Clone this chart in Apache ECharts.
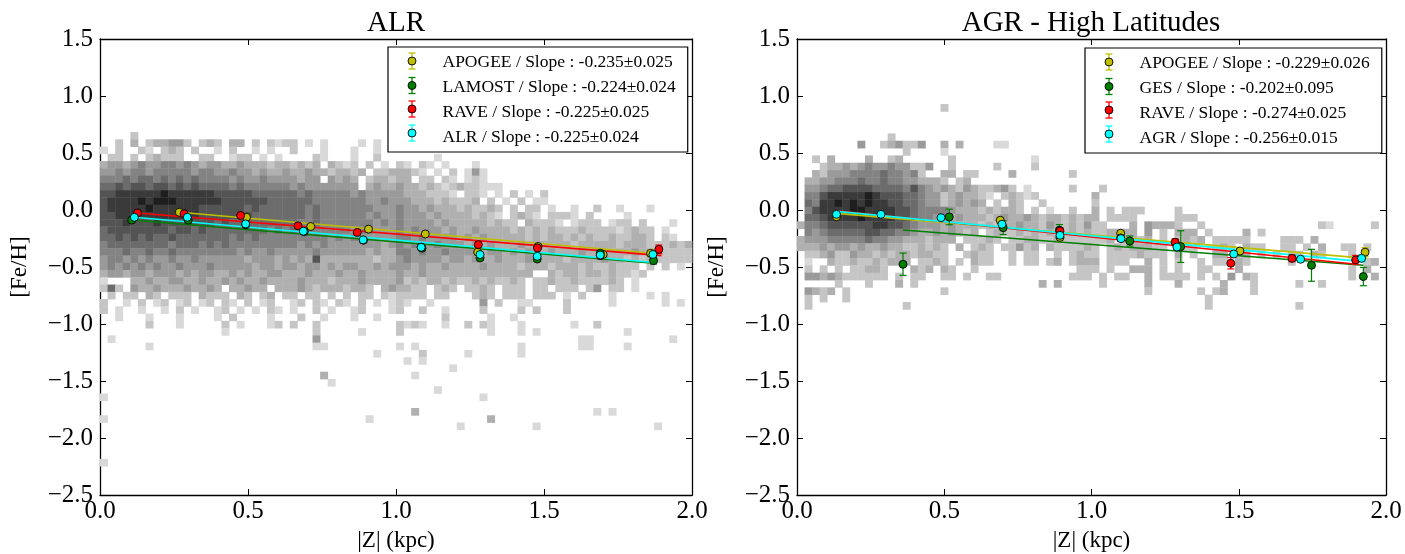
<!DOCTYPE html>
<html><head><meta charset="utf-8">
<script src="https://cdn.jsdelivr.net/npm/echarts@6/dist/echarts.min.js"></script>
<style>html,body{margin:0;padding:0;background:#fff}#c{width:1405px;height:554px}</style>
</head><body><div id="c"></div>
<script>
// ---------------- DATA ----------------
const titles = ['ALR', 'AGR - High Latitudes'];
const xName = '|Z| (kpc)';
const yName = '[Fe/H]';

// 2D histogram geometry (bin edges/centres)
const histXMin = 0, histXBins = 78, histXMax = 2;
const alrRowTop = 0.652, alrRowStep = 0.0637;
const agrRowTop = 0.897, agrRowStep = 0.0643;

// density level per cell (1 light .. 9 dark, '.' empty), rows top->bottom, 10 columns per block
const alrHistRows = [
"....2",
"..2.3.2334 42.232.33. 2.2122.1.1 ....1.1...",
"1.2..21.23 2.2..1.2.. 1.1..2...1 ...1..1...",
".22.2.2322 2..22..122 .1.1....21 ...1..2... ....1",
"3443454455 4543443343 332332323. 3212.2.1.2 1.21.1...1",
"4454554555 5545544544 3433433433 23323.2233 321.1.2.14 1",
"5556566565 6565555454 454444344. 4343.23323 3.22.21.12 1",
"6676776776 7676666565 5555545444 4444.34334 3323212322 111",
"7788888898 8888877777 6666665655 5554544444 3332221.22 1.1.2.1.2.",
"7888898999 8888887777 7766666655 5555544544 4333232223 .2.1.2.11.",
"7888889888 8887777776 7666666565 5555554445 4434333232 232.2.22.1 ..1..2..1. ..1",
"7788888888 8787777767 6666666565 5555545445 4443433332 321.2321.2 221.2....1",
"7778777877 7777767666 6666665565 5555554545 4444343333 32322.3222 1.1222.122 .2...1",
"6777777776 7767666666 6656565555 5554554445 4544434334 3333232323 2223222212 322.1",
"6676767667 6666666565 6555555555 4545444445 5454444343 4333332323 3232322322 332.21",
"5666666665 6665656555 5555554545 4444444345 4544544434 3433343333 3323333323 33222323",
"5556556556 5555555545 4454444454 4444434335 5454454444 3443434334 3334333333 43332222",
"4554545445 4454444443 4443434373 3333332334 5444434434 3343334333 3233334332 32322222",
"4545454544 5444544444 3443443443 4344334344 4343343333 4333323332 3332322322 2.2.2.1",
"3443443444 3434433434 3344333433 3433433334 3343333333 3333333..3 2332332322 12",
"1...334334 4334334343 3433334333 2333433334 2323323223 232232.223 223222232. 1",
"262.433433 343343.334 33.3334323 332332.343 322.232.22 32.222.22. 222.24.22. 1",
".2.22.32.2 22.3222.32 .23.22.22. 2.2.22.212 222.22...2 32.222.222 .1.2...1.. ..1.1",
"2..1.2.12. 12.12.21.2 .12..12.21 .21.2.1.12 1..1...... 4.2..11... .2.....1.. ....1.1",
"2.1..1..1. 2.1..12.1. 1.21.1..2. 1..12...12 ..2..1.... 2....2.2.. .2",
"..1...1... 1....1.2.. ..1...2..1 ...1..1... .....2.... .1..1",
"......2... 1.....2.1. ..12.2..2. .........2 121..1..2. 21...1.... ..1..2",
".......... ......1... ........2. ....1....2 .......... .1...1.1.. .........1",
".1........ .......... ........4. .......... .......... .......... ...11..... .....1",
"......1... .......... ........11 .........1 .1........ .....1.... ...11....1",
".......... .......... .......... ......1... ..2.....1. .....1",
".......... .......... .......... .......... 1.1",
".......... .......... .......... .......... ......1",
".......... .......... .........3 .......... .1",
".......... .......... .......... 1",
".......... .......... .......... .......... ....1",
"1......... .......... .......... .......... .......... 1",
"",
".......... .......... .......... .......... .3........ .......... .....1.1",
"1......... .......... .......... .....1.... .......... .3",
".......... .......... .......... .......... .......1.. .......1.. .......... ...1",
"", "", "", "",
"1"
];

const agrHistRows = [
".......... .........2",
"", "", "",
".......... ..2",
"........4. .234224..3 .3....11..",
".......... ....2....1",
"..2.3....3 ..23...... 2......... .1",
"...2334345 44544224.. 2.....2... .2",
"..32444555 5655452..3 3.22....3. ......2",
".334455565 5655443332 .23",
".445667777 6666575434 324322342. 1.....2... 2",
".557888889 8777665442 343321.232 12.......3",
".658898989 8877665442 34343.2.32 ..2......2",
".578888998 8887765555 4333232332 .2.1..2..3 .2.222.... 2",
".667888898 8887765544 3433323433 4323323233 .2222..... 222",
"3556777777 8877654443 4333232334 3324323242 2...3.4333 2..2...... .........2 1.....2",
".545666667 7665543343 4323.23223 2323223232 23333.4.2. 333.2....3 .2",
"3444555556 5544333233 3.22232.22 3322322222 23.3323.2. 2323.22222 ....222.3",
"3334344343 3433223232 .3.232.224 23.3222232 .23233322. 222..232.3 22..22.2.3 ..22.2",
".223422433 2323323322 ..2322..2. 22..2.2322 .22223222. 3.2..33.23 .2.2.22.32 ...2",
".1..322322 32333.2232 .2.322..2. 22.23.2333 .222..3.2. 2..2.22.32 .....2.... .....23",
".2.2.2.223 32...323.3 2..2...... .......222 .2..333.2. 2..22...3. .......... ...2.3",
".443432222 22.2.22..2 2.2..22... ......222. 2.22..3.22 22.2.2.4.3 2......... ...2..3",
".....2...2 ...3.2.... .......... ..3.3..... 2.....3... 3.....3... 2.....2..2",
".4323.2... .........2 .......... .......... ......2... ...2.23... 2",
".2.2..2... .......... .......... .......... .......... ....2",
".2........ ....2..... .......... .......... .......... ....2..... ......2"
];

// ALR panel binned means
const alrApogeeName = 'APOGEE / Slope : -0.235\u00b10.025';
const alrApogeeZ   = [0.268, 0.495, 0.712, 0.907, 1.099, 1.276, 1.480, 1.700, 1.860];
const alrApogeeFe  = [-0.020, -0.064, -0.145, -0.168, -0.210, -0.370, -0.320, -0.390, -0.380];
const alrApogeeErr = [0.020, 0.020, 0.025, 0.020, 0.020, 0.030, 0.025, 0.030, 0.030];
const alrApogeeFit = [[0.268, -0.020], [1.867, -0.380]];

const alrLamostName = 'LAMOST / Slope : -0.224\u00b10.024';
const alrLamostZ   = [0.107, 0.298, 0.492, 0.690, 0.890, 1.088, 1.284, 1.477, 1.690, 1.870];
const alrLamostFe  = [-0.088, -0.090, -0.130, -0.190, -0.265, -0.335, -0.420, -0.430, -0.380, -0.444];
const alrLamostErr = [0.012, 0.012, 0.012, 0.012, 0.015, 0.015, 0.020, 0.020, 0.025, 0.030];
const alrLamostFit = [[0.107, -0.088], [1.873, -0.467]];

const alrRaveName = 'RAVE / Slope : -0.225\u00b10.025';
const alrRaveZ   = [0.127, 0.284, 0.475, 0.669, 0.869, 1.085, 1.278, 1.478, 1.690, 1.888];
const alrRaveFe  = [-0.026, -0.033, -0.048, -0.139, -0.197, -0.325, -0.304, -0.333, -0.400, -0.345];
const alrRaveErr = [0.012, 0.012, 0.015, 0.015, 0.020, 0.020, 0.020, 0.025, 0.025, 0.038];
const alrRaveFit = [[0.127, -0.026], [1.897, -0.400]];

const alrAllName = 'ALR / Slope : -0.225\u00b10.024';
const alrAllZ   = [0.116, 0.295, 0.492, 0.687, 0.889, 1.085, 1.284, 1.477, 1.690, 1.868];
const alrAllFe  = [-0.064, -0.064, -0.122, -0.186, -0.262, -0.327, -0.391, -0.406, -0.395, -0.390];
const alrAllErr = [0.010, 0.010, 0.010, 0.012, 0.012, 0.015, 0.015, 0.018, 0.020, 0.022];
const alrAllFit = [[0.116, -0.064], [1.873, -0.460]];

// AGR panel binned means
const agrApogeeName = 'APOGEE / Slope : -0.229\u00b10.026';
const agrApogeeZ   = [0.134, 0.690, 0.893, 1.099, 1.504, 1.929];
const agrApogeeFe  = [-0.060, -0.090, -0.240, -0.204, -0.360, -0.370];
const agrApogeeErr = [0.020, 0.020, 0.030, 0.020, 0.030, 0.040];
const agrApogeeFit = [[0.134, -0.030], [1.935, -0.424]];

const agrGesName = 'GES / Slope : -0.202\u00b10.095';
const agrGesZ   = [0.360, 0.517, 0.700, 0.891, 1.130, 1.303, 1.747, 1.923];
const agrGesFe  = [-0.476, -0.061, -0.155, -0.178, -0.272, -0.321, -0.485, -0.584];
const agrGesErr = [0.098, 0.068, 0.060, 0.050, 0.044, 0.139, 0.140, 0.080];
const agrGesFit = [[0.360, -0.175], [1.923, -0.485]];

const agrRaveName = 'RAVE / Slope : -0.274\u00b10.025';
const agrRaveZ   = [0.893, 1.099, 1.284, 1.473, 1.681, 1.897];
const agrRaveFe  = [-0.184, -0.245, -0.283, -0.467, -0.424, -0.438];
const agrRaveErr = [0.030, 0.030, 0.030, 0.050, 0.030, 0.040];
const agrRaveFit = [[0.134, -0.007], [1.900, -0.476]];

const agrAllName = 'AGR / Slope : -0.256\u00b10.015';
const agrAllZ   = [0.134, 0.285, 0.489, 0.696, 0.893, 1.100, 1.290, 1.483, 1.710, 1.917];
const agrAllFe  = [-0.038, -0.038, -0.067, -0.125, -0.222, -0.251, -0.325, -0.386, -0.432, -0.424];
const agrAllErr = [0.012, 0.012, 0.012, 0.015, 0.015, 0.018, 0.020, 0.022, 0.025, 0.028];
const agrAllFit = [[0.134, -0.012], [1.930, -0.455]];

// ---------------- STYLE ----------------
const FONT = '"Liberation Serif", "Times New Roman", serif';
const GRAY = [217, 197, 176, 154, 131, 108, 84, 58, 30];
const COL_Y = '#bfbf00', COL_G = '#007f00', COL_R = '#ff0000', COL_C = '#00ffff';

function histCells(rows, top, step) {
  const dx = (histXMax - histXMin) / histXBins;
  const out = [];
  rows.forEach((r, i) => {
    const s = r.replace(/ /g, '');
    const yc = top - i * step;
    for (let c = 0; c < s.length && c < histXBins; c++) {
      const ch = s[c];
      if (ch >= '1' && ch <= '9') {
        out.push([histXMin + c * dx, histXMin + (c + 1) * dx, yc - step / 2, yc + step / 2, +ch]);
      }
    }
  });
  return out;
}
function renderCell(params, api) {
  const p0 = api.coord([api.value(0), api.value(3)]);
  const p1 = api.coord([api.value(1), api.value(2)]);
  const g = GRAY[api.value(4) - 1];
  return { type: 'rect',
    shape: { x: p0[0], y: p0[1], width: p1[0] - p0[0] + 0.4, height: p1[1] - p0[1] + 0.4 },
    style: { fill: 'rgb(' + g + ',' + g + ',' + g + ')' } };
}
function errRenderer(color) {
  return function (params, api) {
    const x = api.value(0), y = api.value(1), e = api.value(2);
    const a = api.coord([x, y + e]), b = api.coord([x, y - e]);
    const w = 3.5, ls = { stroke: color, lineWidth: 1.2 };
    return { type: 'group', children: [
      { type: 'line', shape: { x1: a[0], y1: a[1], x2: b[0], y2: b[1] }, style: ls },
      { type: 'line', shape: { x1: a[0] - w, y1: a[1], x2: a[0] + w, y2: a[1] }, style: ls },
      { type: 'line', shape: { x1: b[0] - w, y1: b[1], x2: b[0] + w, y2: b[1] }, style: ls }
    ] };
  };
}
function zip(a, b) { return a.map((v, i) => [v, b[i]]); }
function zip3(a, b, c) { return a.map((v, i) => [v, b[i], c[i]]); }

const series = [];
function addPanel(ax, hist, groups) {
  series.push({ type: 'custom', name: 'hist' + ax, xAxisIndex: ax, yAxisIndex: ax, renderItem: renderCell,
    data: hist, encode: { x: [0, 1], y: [2, 3] }, z: 1, silent: true });
  groups.forEach((g, k) => {
    series.push({ type: 'line', name: 'fit' + ax + k, xAxisIndex: ax, yAxisIndex: ax, data: g.fit,
      showSymbol: false, symbol: 'none', lineStyle: { color: g.color, width: 1.6 }, z: 3, silent: true });
  });
  groups.forEach((g, k) => {
    series.push({ type: 'custom', name: 'err' + ax + k, xAxisIndex: ax, yAxisIndex: ax,
      renderItem: errRenderer(g.color), data: zip3(g.z, g.fe, g.err), encode: { x: 0, y: 1 }, z: 4, silent: true });
  });
  groups.forEach((g) => {
    series.push({ type: 'scatter', name: g.name, xAxisIndex: ax, yAxisIndex: ax, data: zip(g.z, g.fe),
      symbol: 'circle', symbolSize: 8,
      itemStyle: { color: g.color, borderColor: '#000', borderWidth: 0.9, opacity: 1 }, z: 5 });
  });
}
const alrGroups = [
  { name: alrApogeeName, color: COL_Y, z: alrApogeeZ, fe: alrApogeeFe, err: alrApogeeErr, fit: alrApogeeFit },
  { name: alrLamostName, color: COL_G, z: alrLamostZ, fe: alrLamostFe, err: alrLamostErr, fit: alrLamostFit },
  { name: alrRaveName, color: COL_R, z: alrRaveZ, fe: alrRaveFe, err: alrRaveErr, fit: alrRaveFit },
  { name: alrAllName, color: COL_C, z: alrAllZ, fe: alrAllFe, err: alrAllErr, fit: alrAllFit }
];
const agrGroups = [
  { name: agrApogeeName, color: COL_Y, z: agrApogeeZ, fe: agrApogeeFe, err: agrApogeeErr, fit: agrApogeeFit },
  { name: agrGesName, color: COL_G, z: agrGesZ, fe: agrGesFe, err: agrGesErr, fit: agrGesFit },
  { name: agrRaveName, color: COL_R, z: agrRaveZ, fe: agrRaveFe, err: agrRaveErr, fit: agrRaveFit },
  { name: agrAllName, color: COL_C, z: agrAllZ, fe: agrAllFe, err: agrAllErr, fit: agrAllFit }
];
addPanel(0, histCells(alrHistRows, alrRowTop, alrRowStep), alrGroups);
addPanel(1, histCells(agrHistRows, agrRowTop, agrRowStep), agrGroups);

function fmt(v) { return v.toFixed(1).replace('-', '\u2212'); }
const tickStyle = { show: true, inside: true, length: 6, lineStyle: { color: '#000', width: 1 } };
const lineStyle = { show: true, onZero: false, lineStyle: { color: '#000', width: 1.3 } };
const labStyle = { fontFamily: FONT, fontSize: 25, color: '#000' };

function xAxes(grid) {
  return [
    { type: 'value', gridIndex: grid, min: 0, max: 2, interval: 0.5, position: 'bottom',
      axisLine: lineStyle, axisTick: tickStyle, splitLine: { show: false },
      axisLabel: Object.assign({ formatter: fmt, margin: 4, showMinLabel: true, showMaxLabel: true }, labStyle),
      name: xName, nameLocation: 'middle', nameGap: 34,
      nameTextStyle: { fontFamily: FONT, fontSize: 23, color: '#000' } },
    { type: 'value', gridIndex: grid, min: 0, max: 2, interval: 0.5, position: 'top',
      axisLine: lineStyle, axisTick: tickStyle, splitLine: { show: false }, axisLabel: { show: false } }
  ];
}
function yAxes(grid) {
  return [
    { type: 'value', gridIndex: grid, min: -2.5, max: 1.5, interval: 0.5, position: 'left',
      axisLine: lineStyle, axisTick: tickStyle, splitLine: { show: false },
      axisLabel: Object.assign({ formatter: fmt, margin: 7, showMinLabel: true, showMaxLabel: true }, labStyle),
      name: yName, nameLocation: 'middle', nameGap: 69, nameRotate: 90,
      nameTextStyle: { fontFamily: FONT, fontSize: 23, color: '#000' } },
    { type: 'value', gridIndex: grid, min: -2.5, max: 1.5, interval: 0.5, position: 'right',
      axisLine: lineStyle, axisTick: tickStyle, splitLine: { show: false }, axisLabel: { show: false } }
  ];
}
const xs = xAxes(0).concat(xAxes(1));
const ys = yAxes(0).concat(yAxes(1));
// series use bottom/left axes: indices 0 (left panel) and 2 (right panel)
series.forEach(s => { const p = s.xAxisIndex; s.xAxisIndex = p * 2; s.yAxisIndex = p * 2; });

function legendFor(names, left, top) {
  return { data: names, orient: 'vertical', left: left, top: top, padding: [6, 12, 6, 19],
    itemGap: 7, itemWidth: 50, itemHeight: 9, borderColor: '#000', borderWidth: 1.2,
    backgroundColor: '#fff', selectedMode: false, itemStyle: { opacity: 0 },
    textStyle: { fontFamily: FONT, fontSize: 17.5, color: '#000' } };
}
// legend markers (circle + error bar) drawn next to the legend rows
function legendMarks(groups, cx, rowsY) {
  const els = [];
  groups.forEach((g, i) => {
    const y = rowsY[i], ls = { stroke: g.color, lineWidth: 1.3 };
    els.push({ type: 'line', z: 100, shape: { x1: cx, y1: y - 8, x2: cx, y2: y + 8 }, style: ls });
    els.push({ type: 'line', z: 100, shape: { x1: cx - 3.5, y1: y - 8, x2: cx + 3.5, y2: y - 8 }, style: ls });
    els.push({ type: 'line', z: 100, shape: { x1: cx - 3.5, y1: y + 8, x2: cx + 3.5, y2: y + 8 }, style: ls });
    els.push({ type: 'circle', z: 101, shape: { cx: cx, cy: y, r: 4 }, style: { fill: g.color, stroke: '#000', lineWidth: 0.9 } });
  });
  return els;
}

const option = {
  animation: false,
  backgroundColor: '#fff',
  title: [
    { text: titles[0], left: 396, top: 9, textAlign: 'center', padding: 0,
      textStyle: { fontFamily: FONT, fontSize: 29, fontWeight: 'normal', color: '#000' } },
    { text: titles[1], left: 1091, top: 9, textAlign: 'center', padding: 0,
      textStyle: { fontFamily: FONT, fontSize: 29, fontWeight: 'normal', color: '#000' } }
  ],
  grid: [
    { left: 100, top: 39, width: 592, height: 456, containLabel: false, outerBoundsMode: 'none' },
    { left: 797, top: 39, width: 589, height: 456, containLabel: false, outerBoundsMode: 'none' }
  ],
  xAxis: xs,
  yAxis: ys,
  legend: [
    legendFor(alrGroups.map(g => g.name), 388, 47),
    legendFor(agrGroups.map(g => g.name), 1085, 48)
  ],
  graphic: legendMarks(alrGroups, 412, [61, 85.5, 109, 133]).concat(legendMarks(agrGroups, 1109, [62, 86.5, 110, 134])),
  series: series
};
const chart = echarts.init(document.getElementById('c'), null, { renderer: 'canvas' });
chart.setOption(option);
</script></body></html>
